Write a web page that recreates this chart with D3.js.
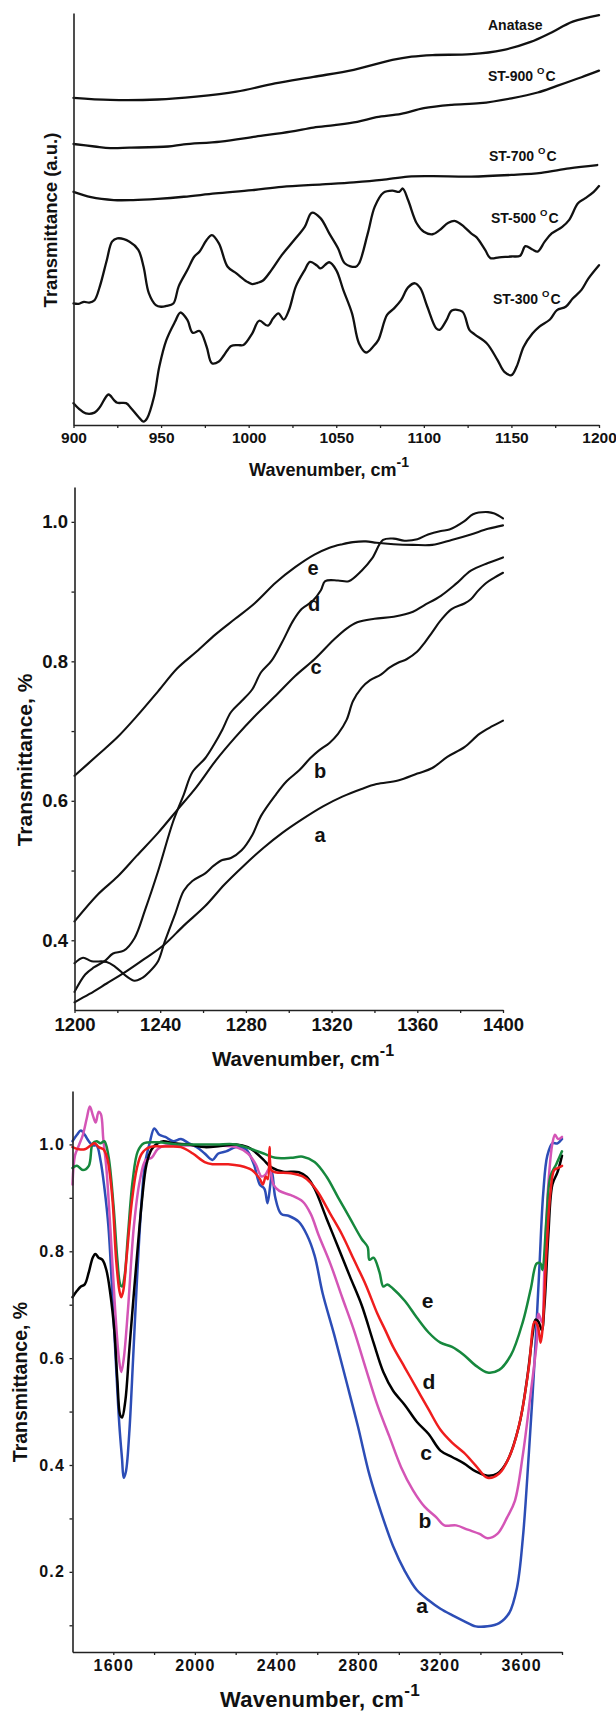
<!DOCTYPE html>
<html>
<head>
<meta charset="utf-8">
<script src="https://cdn.jsdelivr.net/npm/d3@7"></script>
<style>
  body { margin: 0; background: #fff; }
  svg { display: block; }
  text { font-family: Arial, "Liberation Sans", sans-serif; font-weight: bold; fill: #111; }
</style>
</head>
<body>
<svg id="fig" width="616" height="1711"></svg>
<script>
// ---------- Panel 1: 900-1200 cm-1, offset spectra (arbitrary units) ----------
const anatase = [[900,79.4],[921,78.9],[948,79.0],[970,79.7],[993,80.9],[1015,82.9],[1037,84.5],[1060,86.2],[1082,88.6],[1093,89.4],[1105,89.8],[1127,90.0],[1145,91.0],[1161,93.0],[1172,95.1],[1185,97.9],[1200,99.5]];
const st900 = [[900,68.2],[912,67.6],[921,67.2],[932,67.3],[954,67.6],[963,68.1],[984,68.8],[1004,70.0],[1024,71.2],[1037,72.2],[1049,72.8],[1062,73.6],[1073,74.7],[1087,75.5],[1100,76.9],[1116,77.7],[1132,78.1],[1150,79.3],[1165,80.7],[1176,82.3],[1190,84.4],[1200,86.0]];
const st700 = [[900,56.6],[910,55.3],[923,54.6],[934,54.6],[948,54.9],[963,55.4],[981,56.2],[1002,57.0],[1019,57.8],[1042,58.4],[1060,58.9],[1076,59.5],[1091,60.3],[1105,60.4],[1127,60.3],[1150,60.7],[1167,61.2],[1183,62.3],[1199,63.1]];
const st500 = [[900,29.5],[903,29.4],[906,29.9],[909,29.7],[912,30.3],[915,33.6],[919,40.0],[922,44.5],[925,45.3],[932,44.5],[937,42.5],[940,38.4],[943,32.0],[947,29.1],[950,28.7],[953,28.9],[957,29.5],[960,33.6],[965,37.6],[969,40.9],[972,42.1],[976,44.9],[979,46.1],[983,44.1],[988,38.4],[993,36.8],[999,34.8],[1002,34.2],[1005,34.5],[1008,35.0],[1013,37.6],[1019,41.3],[1026,44.9],[1032,48.1],[1036,51.5],[1041,50.2],[1046,46.5],[1051,42.9],[1055,39.2],[1061,38.4],[1063,39.2],[1068,46.5],[1072,53.0],[1077,56.4],[1082,56.9],[1086,56.6],[1088,57.4],[1091,54.6],[1096,48.9],[1100,46.9],[1105,46.3],[1109,47.3],[1114,49.1],[1118,49.5],[1123,48.1],[1127,46.5],[1130,45.6],[1135,42.5],[1138,40.5],[1143,40.7],[1150,40.9],[1155,41.1],[1158,43.4],[1162,42.6],[1165,42.1],[1169,44.5],[1173,46.5],[1179,48.1],[1183,49.8],[1188,53.8],[1192,55.0],[1197,56.6],[1200,58.0]];
const st300 = [[900,5.3],[903,4.0],[907,2.8],[912,3.0],[915,4.3],[920,7.4],[923,6.1],[925,5.4],[930,5.3],[933,4.0],[937,2.0],[940,0.8],[942,1.6],[946,6.9],[949,14.2],[953,20.6],[958,25.1],[961,27.3],[965,25.5],[968,22.4],[972,22.8],[976,19.0],[979,15.0],[983,15.4],[986,17.0],[990,19.2],[994,19.4],[997,19.4],[1002,22.2],[1006,25.3],[1011,24.1],[1014,25.9],[1017,27.1],[1020,25.6],[1023,27.9],[1027,33.7],[1032,37.6],[1035,39.6],[1039,38.7],[1041,38.0],[1046,39.5],[1050,37.6],[1054,32.8],[1059,27.1],[1063,19.8],[1067,17.6],[1071,19.0],[1074,20.6],[1079,26.7],[1083,28.3],[1087,30.3],[1091,33.4],[1095,34.4],[1098,33.2],[1102,28.7],[1107,23.5],[1109,23.1],[1113,25.5],[1116,27.8],[1122,27.5],[1126,23.1],[1129,22.0],[1136,19.8],[1142,15.8],[1146,12.9],[1150,12.1],[1153,14.2],[1157,19.0],[1162,22.2],[1166,23.9],[1172,25.6],[1176,27.9],[1181,28.7],[1185,30.7],[1190,32.8],[1194,35.6],[1200,38.8]];
const panel1Names = ["Anatase", "ST-900", "ST-700", "ST-500", "ST-300"];

// ---------- Panel 2: 1200-1400 cm-1 ----------
const bandA = [[1200,0.311],[1207,0.323],[1215,0.338],[1224,0.355],[1233,0.374],[1242,0.394],[1251,0.421],[1261,0.449],[1270,0.480],[1279,0.507],[1288,0.532],[1297,0.554],[1306,0.573],[1316,0.592],[1325,0.606],[1334,0.617],[1341,0.624],[1351,0.629],[1360,0.639],[1367,0.647],[1374,0.663],[1382,0.677],[1389,0.696],[1395,0.707],[1400,0.715]];
const bandB = [[1200,0.367],[1204,0.375],[1208,0.370],[1215,0.369],[1219,0.362],[1224,0.349],[1228,0.342],[1231,0.345],[1235,0.355],[1239,0.370],[1242,0.397],[1247,0.438],[1251,0.471],[1255,0.485],[1261,0.496],[1265,0.507],[1269,0.515],[1273,0.518],[1278,0.529],[1283,0.551],[1287,0.578],[1294,0.609],[1299,0.628],[1305,0.644],[1310,0.661],[1314,0.672],[1319,0.683],[1323,0.696],[1327,0.716],[1330,0.743],[1334,0.762],[1338,0.773],[1343,0.781],[1347,0.791],[1351,0.798],[1355,0.803],[1360,0.814],[1363,0.825],[1367,0.842],[1371,0.859],[1376,0.875],[1382,0.883],[1385,0.889],[1388,0.900],[1392,0.912],[1396,0.920],[1400,0.927]];
const bandC = [[1200,0.427],[1211,0.466],[1220,0.491],[1229,0.521],[1239,0.554],[1248,0.587],[1257,0.620],[1266,0.658],[1275,0.691],[1284,0.721],[1294,0.751],[1303,0.779],[1312,0.803],[1321,0.831],[1327,0.847],[1332,0.856],[1340,0.861],[1349,0.864],[1358,0.871],[1363,0.880],[1371,0.894],[1378,0.911],[1385,0.930],[1393,0.941],[1400,0.949]];
const bandD = [[1200,0.326],[1205,0.351],[1209,0.361],[1214,0.370],[1218,0.381],[1223,0.385],[1228,0.403],[1233,0.444],[1239,0.499],[1246,0.570],[1251,0.609],[1255,0.641],[1261,0.661],[1265,0.680],[1269,0.702],[1273,0.727],[1278,0.743],[1283,0.760],[1287,0.784],[1292,0.801],[1297,0.828],[1302,0.858],[1306,0.875],[1311,0.886],[1315,0.902],[1317,0.915],[1323,0.916],[1328,0.915],[1334,0.930],[1339,0.948],[1344,0.974],[1349,0.976],[1354,0.973],[1360,0.975],[1365,0.982],[1371,0.987],[1375,0.989],[1382,1.001],[1386,1.011],[1393,1.014],[1396,1.012],[1400,1.005]];
const bandE = [[1200,0.636],[1211,0.666],[1220,0.691],[1229,0.721],[1239,0.757],[1248,0.790],[1257,0.814],[1266,0.839],[1275,0.861],[1284,0.883],[1294,0.913],[1303,0.935],[1312,0.953],[1319,0.963],[1325,0.968],[1330,0.971],[1336,0.972],[1341,0.970],[1349,0.968],[1358,0.967],[1367,0.967],[1376,0.974],[1385,0.982],[1393,0.990],[1400,0.995]];
const panel2Labels = ["a", "b", "c", "d", "e"];
const panel2Ticks = [1200, 1240, 1280, 1320, 1360, 1400];
const panel2YTicks = [0.4, 0.6, 0.8, 1.0];

// ---------- Panel 3: 1400-3800 cm-1 ----------
const ftirA = [[1400,1.006],[1422,1.018],[1441,1.026],[1460,1.018],[1480,1.006],[1499,0.998],[1518,0.998],[1537,0.971],[1557,0.917],[1576,0.847],[1595,0.722],[1614,0.582],[1630,0.473],[1643,0.411],[1651,0.376],[1662,0.388],[1678,0.458],[1697,0.598],[1716,0.746],[1736,0.878],[1755,0.963],[1778,1.002],[1801,1.030],[1826,1.018],[1855,1.014],[1894,1.006],[1932,1.010],[1971,1.002],[2009,0.995],[2048,0.983],[2086,0.971],[2115,0.983],[2153,0.987],[2202,0.995],[2250,0.991],[2289,0.963],[2318,0.925],[2341,0.917],[2356,0.890],[2370,0.925],[2379,0.948],[2394,0.901],[2423,0.870],[2462,0.866],[2510,0.855],[2549,0.831],[2587,0.792],[2626,0.722],[2683,0.644],[2741,0.559],[2799,0.473],[2857,0.380],[2914,0.310],[2972,0.248],[3030,0.201],[3088,0.166],[3146,0.147],[3204,0.131],[3261,0.119],[3319,0.108],[3377,0.098],[3435,0.098],[3492,0.104],[3541,0.123],[3579,0.170],[3608,0.263],[3637,0.419],[3666,0.598],[3689,0.769],[3708,0.909],[3728,0.979],[3753,1.002],[3778,1.002],[3800,1.010]];
const ftirB = [[1400,0.925],[1412,0.979],[1431,0.998],[1451,1.018],[1470,1.049],[1485,1.071],[1501,1.053],[1514,1.041],[1528,1.061],[1539,1.057],[1551,1.010],[1566,0.956],[1585,0.847],[1609,0.691],[1628,0.598],[1639,0.574],[1651,0.598],[1672,0.691],[1701,0.847],[1730,0.932],[1759,0.971],[1788,0.975],[1817,0.991],[1855,0.998],[1932,0.998],[2048,0.998],[2125,0.998],[2202,0.995],[2260,0.983],[2298,0.963],[2327,0.940],[2347,0.944],[2366,0.956],[2385,0.925],[2414,0.913],[2471,0.905],[2529,0.893],[2568,0.870],[2606,0.831],[2664,0.777],[2722,0.714],[2780,0.652],[2837,0.582],[2895,0.512],[2953,0.454],[3011,0.396],[3069,0.353],[3126,0.322],[3184,0.302],[3223,0.287],[3281,0.287],[3338,0.279],[3396,0.271],[3435,0.263],[3483,0.271],[3531,0.302],[3569,0.333],[3608,0.419],[3647,0.536],[3676,0.629],[3685,0.683],[3701,0.668],[3714,0.769],[3733,0.925],[3753,1.002],[3766,1.018],[3781,1.010],[3800,1.014]];
const ftirC = [[1400,0.714],[1422,0.726],[1441,0.734],[1460,0.738],[1480,0.761],[1499,0.788],[1512,0.795],[1528,0.788],[1547,0.784],[1566,0.765],[1585,0.722],[1605,0.652],[1620,0.559],[1634,0.493],[1643,0.489],[1659,0.520],[1678,0.613],[1701,0.722],[1720,0.808],[1740,0.893],[1763,0.963],[1788,0.991],[1817,1.002],[1846,1.006],[1894,1.002],[1971,1.000],[2048,0.995],[2125,0.997],[2202,1.000],[2260,0.995],[2298,0.985],[2337,0.971],[2375,0.957],[2433,0.949],[2510,0.948],[2549,0.939],[2587,0.917],[2645,0.862],[2702,0.808],[2760,0.753],[2818,0.699],[2876,0.629],[2924,0.574],[2972,0.539],[3030,0.512],[3088,0.481],[3146,0.458],[3204,0.427],[3261,0.415],[3319,0.403],[3377,0.388],[3435,0.380],[3483,0.384],[3531,0.407],[3589,0.473],[3628,0.559],[3656,0.644],[3670,0.672],[3685,0.668],[3701,0.652],[3714,0.699],[3733,0.831],[3753,0.925],[3778,0.948],[3800,0.979]];
const ftirD = [[1400,0.995],[1431,0.991],[1460,0.991],[1489,0.998],[1509,1.002],[1528,0.995],[1551,0.991],[1570,0.975],[1595,0.901],[1614,0.784],[1630,0.726],[1639,0.714],[1649,0.726],[1666,0.792],[1691,0.893],[1716,0.956],[1740,0.983],[1778,0.995],[1855,0.996],[1932,0.995],[1990,0.983],[2048,0.967],[2086,0.963],[2163,0.963],[2221,0.960],[2279,0.952],[2318,0.936],[2333,0.925],[2348,0.940],[2358,0.935],[2366,0.995],[2375,0.952],[2394,0.948],[2471,0.946],[2529,0.940],[2568,0.928],[2606,0.909],[2664,0.870],[2722,0.831],[2780,0.784],[2837,0.738],[2895,0.683],[2934,0.652],[2972,0.621],[3030,0.582],[3088,0.543],[3146,0.504],[3204,0.466],[3261,0.442],[3319,0.423],[3377,0.399],[3435,0.376],[3492,0.384],[3550,0.423],[3598,0.489],[3637,0.582],[3666,0.668],[3681,0.660],[3695,0.629],[3704,0.652],[3724,0.800],[3743,0.909],[3762,0.952],[3781,0.956],[3800,0.960]];
const ftirE = [[1400,0.956],[1422,0.960],[1451,0.952],[1480,0.960],[1499,1.002],[1518,1.006],[1537,1.002],[1556,1.006],[1576,0.979],[1601,0.886],[1620,0.784],[1634,0.738],[1643,0.734],[1655,0.753],[1672,0.831],[1695,0.932],[1720,0.987],[1749,1.002],[1817,1.004],[1913,1.000],[2009,1.000],[2106,1.000],[2202,1.000],[2279,0.991],[2337,0.983],[2394,0.975],[2471,0.975],[2529,0.977],[2587,0.967],[2645,0.940],[2702,0.901],[2760,0.862],[2818,0.823],[2847,0.808],[2856,0.784],[2876,0.788],[2905,0.761],[2924,0.734],[2943,0.738],[2972,0.730],[3030,0.707],[3088,0.676],[3146,0.648],[3204,0.629],[3261,0.621],[3319,0.606],[3377,0.586],[3435,0.573],[3492,0.578],[3550,0.606],[3608,0.668],[3647,0.730],[3676,0.777],[3695,0.777],[3704,0.765],[3724,0.862],[3743,0.940],[3772,0.963],[3800,0.987]];
const panel3Colors = ["#2c4db6", "#d455b6", "#000000", "#ef1d1d", "#16883d"];

const svg = d3.select("#fig");

// axis styling shared by all panels
function styleAxis(g, fontSize, spacing) {
  g.select(".domain").attr("stroke", "#222").attr("stroke-width", 1.6);
  g.selectAll(".tick line").attr("stroke", "#222").attr("stroke-width", 1.3);
  g.selectAll(".tick text")
    .attr("fill", "#111")
    .style("font-size", fontSize + "px")
    .style("font-family", 'Arial, "Liberation Sans", sans-serif')
    .style("font-weight", "bold")
    .style("letter-spacing", spacing ? spacing + "px" : null);
}

function xTitle(cx, baseline, size, spacing) {
  const t = svg.append("text")
    .attr("x", cx).attr("y", baseline)
    .attr("text-anchor", "middle")
    .style("font-size", size + "px")
    .style("letter-spacing", spacing ? spacing + "px" : null);
  t.append("tspan").text("Wavenumber, cm");
  t.append("tspan").attr("dy", -size * 0.5).style("font-size", (size * 0.78) + "px").text("-1");
}

function yTitle(cx, cy, size, label) {
  svg.append("text")
    .attr("transform", `translate(${cx},${cy}) rotate(-90)`)
    .attr("text-anchor", "middle")
    .attr("dy", "0.35em")
    .style("font-size", size + "px")
    .text(label);
}

function drawLines(data, x, y, colors, width) {
  const line = d3.line()
    .x(d => x(d[0])).y(d => y(d[1]))
    .curve(d3.curveCatmullRom.alpha(0.5));
  data.forEach((s, i) => {
    svg.append("path")
      .attr("d", line(s))
      .attr("fill", "none")
      .attr("stroke", colors[i])
      .attr("stroke-width", width)
      .attr("stroke-linejoin", "round")
      .attr("stroke-linecap", "round");
  });
}

// ================= Panel 1 =================
{
  const x = d3.scaleLinear().domain([900, 1200]).range([73.5, 599]);
  const y = d3.scaleLinear().domain([0, 100]).range([425, 13]);

  drawLines([anatase, st900, st700, st500, st300], x, y, d3.range(5).map(() => "#111"), 2.3);

  const gx = svg.append("g").attr("transform", "translate(0,425)")
    .call(d3.axisBottom(x).tickValues(d3.range(900, 1201, 25)).tickSize(3).tickSizeOuter(0).tickPadding(4)
      .tickFormat(d => d % 50 === 0 ? d : ""));
  styleAxis(gx, 15.5);
  const gy = svg.append("g").attr("transform", "translate(73.5,0)")
    .call(d3.axisLeft(y).tickValues([]).tickSizeOuter(0));
  styleAxis(gy, 15);

  xTitle(329, 476, 18);
  yTitle(51, 220, 18.5, "Transmittance (a.u.)");

  // sample names at the right end of each trace
  const pos = [[488, 30], [488, 81], [489, 161], [491, 223], [493, 304]];
  panel1Names.forEach((name, i) => {
    const t = svg.append("text").attr("x", pos[i][0]).attr("y", pos[i][1]).style("font-size", "14px");
    if (i === 0) { t.text(name); return; }
    t.append("tspan").text(name + " ");
    t.append("tspan").attr("dy", -7).style("font-size", "9.5px").text("O");
    t.append("tspan").attr("dy", 7).attr("dx", 1).text("C");
  });
}

// ================= Panel 2 =================
{
  const x = d3.scaleLinear().domain([1200, 1400]).range([74.5, 503]);
  const y = d3.scaleLinear().domain([0.30, 1.05]).range([1010, 487]);

  drawLines([bandA, bandB, bandC, bandD, bandE], x, y, d3.range(5).map(() => "#111"), 2.1);

  const gx = svg.append("g").attr("transform", "translate(0,1010)")
    .call(d3.axisBottom(x).tickValues(d3.range(1200, 1401, 20)).tickSize(3).tickSizeOuter(0).tickPadding(5)
      .tickFormat(d => panel2Ticks.includes(d) ? d : ""));
  styleAxis(gx, 18.5);
  const gy = svg.append("g").attr("transform", "translate(74.5,0)")
    .call(d3.axisLeft(y).tickValues([0.4, 0.5, 0.6, 0.7, 0.8, 0.9, 1.0]).tickSize(3).tickSizeOuter(0).tickPadding(3.5)
      .tickFormat(d => panel2YTicks.some(v => Math.abs(v - d) < 1e-9) ? d3.format(".1f")(d) : ""));
  styleAxis(gy, 18.5);

  xTitle(303, 1066, 20.5);
  yTitle(25, 760, 21, "Transmittance, %");

  const lab = [[320, 841.5], [320, 778], [316, 674], [314, 611], [313, 574.5]];
  panel2Labels.forEach((l, i) => {
    svg.append("text").attr("x", lab[i][0]).attr("y", lab[i][1])
      .attr("text-anchor", "middle").style("font-size", "20px").text(l);
  });
}

// ================= Panel 3 =================
{
  const x = d3.scaleLinear().domain([1400, 3800]).range([72.5, 562]);
  const y = d3.scaleLinear().domain([0.05, 1.10]).range([1652, 1091]);

  drawLines([ftirA, ftirB, ftirC, ftirE, ftirD], x, y,
    [panel3Colors[0], panel3Colors[1], panel3Colors[2], panel3Colors[4], panel3Colors[3]], 2.5);

  const labelled = [1600, 2000, 2400, 2800, 3200, 3600];
  const gx = svg.append("g").attr("transform", "translate(0,1652)")
    .call(d3.axisBottom(x).tickValues(d3.range(1600, 3801, 200)).tickSize(3).tickSizeOuter(0).tickPadding(5)
      .tickFormat(d => labelled.includes(d) ? d : ""));
  styleAxis(gx, 16, 1.2);
  const majorY = [0.2, 0.4, 0.6, 0.8, 1.0];
  const gy = svg.append("g").attr("transform", "translate(72.5,0)")
    .call(d3.axisLeft(y).tickValues(d3.range(1, 11).map(v => v / 10)).tickSize(3).tickSizeOuter(0).tickPadding(4.5)
      .tickFormat(d => majorY.some(v => Math.abs(v - d) < 1e-9) ? d3.format(".1f")(d) : ""));
  styleAxis(gy, 16, 1.2);

  xTitle(320, 1707, 22, 0.3);
  yTitle(20.5, 1382, 19.5, "Transmittance, %");

  const lab = [[422, 1613], [425, 1528], [426, 1460], [429, 1389], [427.5, 1308]];
  panel2Labels.forEach((l, i) => {
    svg.append("text").attr("x", lab[i][0]).attr("y", lab[i][1])
      .attr("text-anchor", "middle").style("font-size", "21px").text(l);
  });
}
</script>
</body>
</html>
